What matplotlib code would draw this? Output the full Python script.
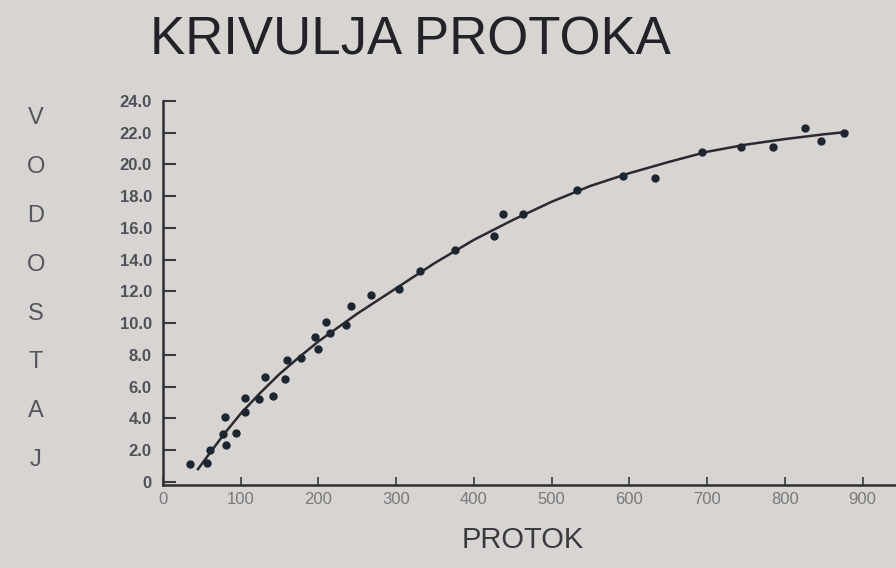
import matplotlib.pyplot as plt

# Measured points (protok, vodostaj)
protok = [35, 56, 60, 77, 81, 80, 94, 105, 105, 124, 131, 141, 157, 160, 177,
          196, 200, 210, 215, 236, 242, 268, 304, 331, 376, 426, 438, 463,
          533, 592, 633, 694, 744, 785, 826, 846, 876]
vodostaj = [1.1, 1.2, 2.0, 3.0, 2.3, 4.1, 3.1, 4.4, 5.3, 5.2, 6.6, 5.4, 6.45,
            7.7, 7.8, 9.1, 8.4, 10.1, 9.35, 9.9, 11.1, 11.8, 12.15, 13.3,
            14.6, 15.5, 16.9, 16.9, 18.4, 19.3, 19.15, 20.8, 21.1, 21.1,
            22.3, 21.45, 22.0]

# Curve as drawn in the picture
curve_x = [45, 60, 80, 100, 125, 150, 175, 200, 250, 300, 350, 400, 450,
           500, 550, 600, 650, 700, 750, 800, 850, 880]
curve_y = [0.8, 1.8, 3.1, 4.3, 5.6, 6.8, 7.85, 8.85, 10.6, 12.2, 13.8, 15.25,
           16.5, 17.65, 18.65, 19.45, 20.15, 20.8, 21.25, 21.6, 21.9, 22.05]

y_ticks = [0, 2, 4, 6, 8, 10, 12, 14, 16, 18, 20, 22, 24]
y_labels = ['0'] + [f'{v:.1f}' for v in y_ticks[1:]]
x_ticks = [0, 100, 200, 300, 400, 500, 600, 700, 800, 900]
ylabel_letters = ['V', 'O', 'D', 'O', 'S', 'T', 'A', 'J']

bg = '#d7d4d2'
ink = '#2b2a30'

plt.rcParams['font.family'] = ['Liberation Sans', 'DejaVu Sans']

fig = plt.figure(figsize=(8.96, 5.68), dpi=100, facecolor=bg)
ax = fig.add_axes([0.1819, 0.1461, 0.8181, 0.6761])
ax.set_facecolor(bg)

ax.plot(curve_x, curve_y, color=ink, lw=1.8, zorder=2)
ax.plot(protok, vodostaj, 'o', color='#1c2530', ms=5, zorder=3)

ax.set_xlim(0, 943)
ax.set_ylim(-0.2, 24)
ax.set_xticks(x_ticks)
ax.set_xticklabels([str(v) for v in x_ticks], color='#7a7a7a', fontsize=12)
ax.set_yticks(y_ticks)
ax.set_yticklabels(y_labels, color='#505058', fontsize=12, fontweight='bold')
ax.tick_params(axis='y', direction='in', length=9, width=1.5, color='#3a3a40', pad=8)
ax.tick_params(axis='x', direction='in', length=6, width=1.2, color='#3a3a40', pad=5)

for s in ['top', 'right']:
    ax.spines[s].set_visible(False)
for s in ['left', 'bottom']:
    ax.spines[s].set_color('#2e2e34')
    ax.spines[s].set_linewidth(1.8)

fig.text(0.458, 0.929, 'KRIVULJA PROTOKA', ha='center', va='center',
         fontsize=38, color='#222228')
fig.text(0.583, 0.049, 'PROTOK', ha='center', va='center',
         fontsize=21, color='#3a3a40')

for i, letter in enumerate(ylabel_letters):
    y_px = 118 + i * 48.9
    fig.text(0.040, 1 - y_px / 568, letter, ha='center', va='center',
             fontsize=17, color='#55555c')

fig.savefig('out.png', dpi=100, facecolor=bg)
